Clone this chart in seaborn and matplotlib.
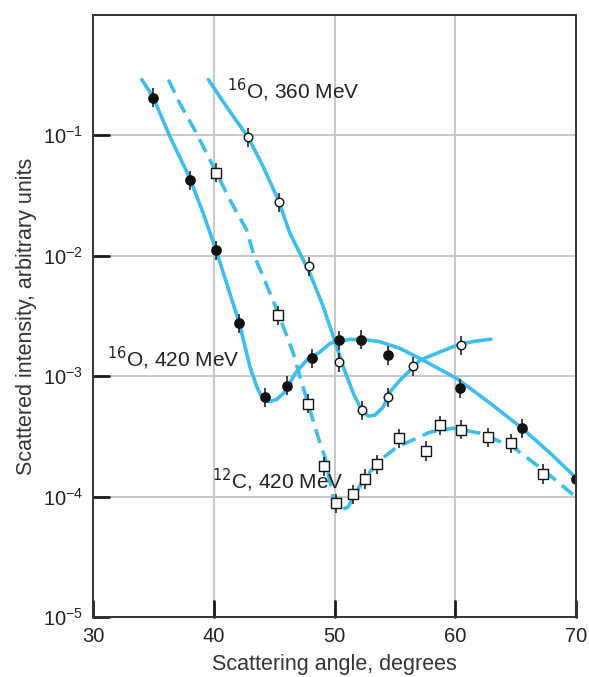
import numpy as np
import pandas as pd
import seaborn as sns
import matplotlib.pyplot as plt

# Measured points (angle in degrees, intensity in arbitrary units)
o420_angle = [35.0, 38.0, 40.2, 42.1, 44.2, 46.1, 48.1, 50.4, 52.2, 54.4, 60.4, 65.5, 70.0]
o420_int = [0.206, 0.0423, 0.0111, 0.00275, 6.7e-4, 8.3e-4, 1.41e-3, 1.99e-3, 2.0e-3,
            1.49e-3, 7.9e-4, 3.7e-4, 1.40e-4]

o360_angle = [42.8, 45.4, 47.9, 50.4, 52.3, 54.4, 56.5, 60.5]
o360_int = [0.096, 0.0278, 0.0082, 1.31e-3, 5.2e-4, 6.7e-4, 1.21e-3, 1.8e-3]

c420_angle = [40.2, 45.3, 47.8, 49.1, 50.1, 51.5, 52.5, 53.5, 55.3, 57.6, 58.7, 60.5,
              62.7, 64.6, 67.3]
c420_int = [0.049, 3.2e-3, 5.9e-4, 1.79e-4, 8.8e-5, 1.05e-4, 1.40e-4, 1.86e-4, 3.05e-4,
            2.39e-4, 3.9e-4, 3.6e-4, 3.1e-4, 2.78e-4, 1.54e-4]

# Fitted curves
o420_fit_angle = [34.03, 34.94, 36.38, 38.03, 39.13, 40.19, 41.07, 42.12, 43.00, 43.56,
                  43.97, 44.52, 45.21, 45.90, 46.73, 47.70, 48.80, 49.63, 50.18, 51.28,
                  52.39, 53.77, 55.42, 57.08, 60.12, 62.88, 65.53, 67.85, 70.0]
o420_fit_int = [0.290, 0.211, 0.0968, 0.0437, 0.0224, 0.0111, 5.88e-3, 2.74e-3, 1.19e-3,
                8.15e-4, 6.73e-4, 6.12e-4, 6.41e-4, 7.41e-4, 1.05e-3, 1.36e-3, 1.59e-3,
                1.87e-3, 1.93e-3, 2.02e-3, 2.02e-3, 1.93e-3, 1.70e-3, 1.40e-3, 9.57e-4,
                5.97e-4, 3.70e-4, 2.30e-4, 1.43e-4]

o360_fit_angle = [39.55, 41.07, 42.86, 44.10, 45.35, 46.31, 47.97, 49.07, 50.04, 50.73,
                  51.56, 52.25, 52.80, 53.35, 54.04, 54.60, 55.42, 56.53, 57.08, 58.74,
                  60.39, 61.64, 62.96]
o360_fit_int = [0.290, 0.172, 0.0957, 0.0546, 0.0289, 0.0153, 7.11e-3, 3.76e-3, 1.93e-3,
                1.19e-3, 7.18e-4, 5.22e-4, 4.66e-4, 4.75e-4, 5.56e-4, 7.41e-4, 9.27e-4,
                1.19e-3, 1.36e-3, 1.59e-3, 1.85e-3, 1.95e-3, 2.03e-3]

c420_fit_angle = [36.24, 37.20, 38.59, 40.19, 41.35, 42.73, 43.28, 44.10, 45.35, 46.59,
                  47.14, 48.38, 48.94, 49.21, 50.04, 50.46, 51.12, 52.36, 53.77, 55.18,
                  57.91, 59.81, 62.05, 64.78, 67.60, 70.0]
c420_fit_int = [0.290, 0.183, 0.103, 0.0495, 0.0289, 0.0163, 0.0104, 6.67e-3, 3.31e-3,
                1.54e-3, 9.87e-4, 3.79e-4, 2.51e-4, 2.13e-4, 8.18e-5, 7.73e-5, 8.18e-5,
                1.37e-4, 2.01e-4, 2.58e-4, 3.43e-4, 3.70e-4, 3.36e-4, 2.58e-4, 1.57e-4,
                9.9e-5]

x_ticks = [30, 40, 50, 60, 70]
y_ticks = [1e-5, 1e-4, 1e-3, 1e-2, 1e-1]

err_factor = 1.2

sns.set_style("white")
plt.rcParams['font.family'] = ['Liberation Sans', 'DejaVu Sans']

fig, ax = plt.subplots(figsize=(5.89, 6.77), dpi=100)
fig.subplots_adjust(left=0.158, right=0.978, top=0.978, bottom=0.0886)

blue = "#3DBEEC"

# Curves
for xs, ys in [(o420_fit_angle, o420_fit_int), (o360_fit_angle, o360_fit_int),
               (c420_fit_angle, c420_fit_int)]:
    sns.lineplot(x=xs, y=ys, ax=ax, color=blue, lw=2.6, sort=False, zorder=2)
    ax.lines[-1].set_solid_joinstyle('round')
ax.lines[-1].set_dashes((4, 2.2))


def draw_points(angle, vals, marker, face, size):
    vals = np.array(vals)
    ax.errorbar(angle, vals, yerr=[vals - vals / err_factor, vals * err_factor - vals],
                fmt='none', ecolor='#222222', elinewidth=1.2, zorder=3)
    sns.scatterplot(x=angle, y=vals, ax=ax, marker=marker, color=face, edgecolor='#111111',
                    linewidth=1.0, s=size, zorder=4, legend=False)


draw_points(o420_angle, o420_int, 'o', '#111111', 45)
draw_points(o360_angle, o360_int, 'o', 'white', 38)
draw_points(c420_angle, c420_int, 's', 'white', 55)

ax.set_yscale('log')
ax.set_xlim(30, 70)
ax.set_ylim(1e-5, 1)
ax.set_xticks(x_ticks)
ax.set_yticks(y_ticks)
ax.minorticks_off()
ax.grid(False)
ax.tick_params(axis='both', length=0, labelsize=14.5, labelcolor='#222222', pad=7)

# Grid
for xv in x_ticks[1:-1]:
    ax.axvline(xv, color='#c4c4c4', lw=1.3, zorder=0.5)
for yv in y_ticks[1:]:
    ax.axhline(yv, color='#c4c4c4', lw=1.3, zorder=0.5)

# Inward tick marks, drawn on top of the grid
for xv in x_ticks:
    ax.axvline(xv, ymin=0, ymax=0.026, color='#1a1a1a', lw=2.0, zorder=5, clip_on=False)
for yv in y_ticks:
    ax.axhline(yv, xmin=0, xmax=0.032, color='#1a1a1a', lw=2.0, zorder=5, clip_on=False)

for sp in ax.spines.values():
    sp.set_color('#333333')
    sp.set_linewidth(1.4)
    sp.set_zorder(6)

ax.set_xlabel("Scattering angle, degrees", fontsize=15.5, color='#333333', labelpad=6)
ax.set_ylabel("Scattered intensity, arbitrary units", fontsize=15.5, color='#333333', labelpad=4)

ax.text(41.1, 0.236, r"$^{16}$O, 360 MeV", fontsize=15, color='#222222', va='center')
ax.text(31.16, 1.41e-3, r"$^{16}$O, 420 MeV", fontsize=15, color='#222222', va='center')
ax.text(39.85, 1.35e-4, r"$^{12}$C, 420 MeV", fontsize=15, color='#222222', va='center')

fig.savefig("out.png", dpi=100)
